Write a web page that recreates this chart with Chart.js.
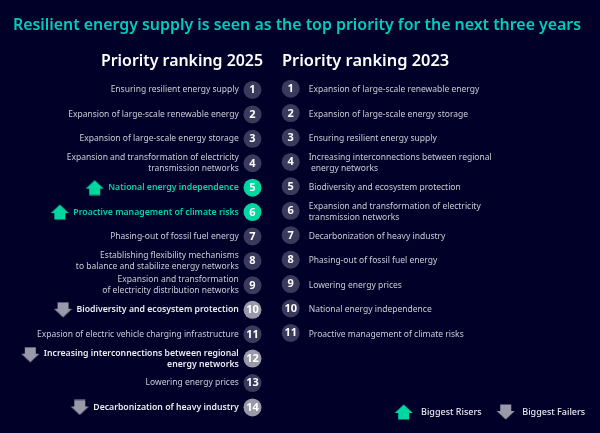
<!DOCTYPE html>
<html><head><meta charset="utf-8">
<style>html,body{margin:0;padding:0;background:#000028;overflow:hidden}canvas{display:block}</style>
<script src="https://cdn.jsdelivr.net/npm/chart.js@4"></script>
</head><body><canvas id="c" width="600" height="433"></canvas>
<script>
const chartTitle = "Resilient energy supply is seen as the top priority for the next three years";
const heading2025 = "Priority ranking 2025";
const heading2023 = "Priority ranking 2023";
const categories2025 = [
 "Ensuring resilient energy supply","Expansion of large-scale renewable energy","Expansion of large-scale energy storage",
 "Expansion and transformation of electricity\ntransmission networks","National energy independence","Proactive management of climate risks",
 "Phasing-out of fossil fuel energy","Establishing flexibility mechanisms\nto balance and stabilize energy networks",
 "Expansion and transformation\nof electricity distribution networks","Biodiversity and ecosystem protection",
 "Expasion of electric vehicle charging infrastructure","Increasing interconnections between regional\nenergy networks",
 "Lowering energy prices","Decarbonization of heavy industry"];
const categories2023 = [
 "Expansion of large-scale renewable energy","Expansion of large-scale energy storage","Ensuring resilient energy supply",
 "Increasing interconnections between regional\n energy networks","Biodiversity and ecosystem protection",
 "Expansion and transformation of electricity\ntransmission networks","Decarbonization of heavy industry",
 "Phasing-out of fossil fuel energy","Lowering energy prices","National energy independence","Proactive management of climate risks"];
const ranks2025 = [1,2,3,4,5,6,7,8,9,10,11,12,13,14];
const ranks2023 = [1,2,3,4,5,6,7,8,9,10,11];
const riserRanks = [5,6];
const failerRanks = [10,12,14];
const legendLabels = ["Biggest Risers","Biggest Failers"];

const FONT = '"Noto Sans"';
const BG='#000028', TEAL='#00cbbc', GREEN='#00d7a0', GREENTXT='#00d2a5', GREY='#9999a9', NAVY='#3a3a5c', TXT='#ccccd6', WHITE='#ffffff';
const COL25=252.5, COL23=290.7, TXT25=238.8, TXT23=308.7;
const fontBody='400 8.5px '+FONT, fontBold='600 8.7px '+FONT;

function arrow(color,down){
  const c=document.createElement('canvas');c.width=19;c.height=16;const g=c.getContext('2d');
  g.fillStyle=color;g.beginPath();
  const p=[[9.5,0.5],[18.5,9],[15,9],[15,15.5],[4,15.5],[4,9],[0.5,9]];
  p.forEach(([x,y],i)=>{const yy=down?16-y:y;i?g.lineTo(x,yy):g.moveTo(x,yy);});
  g.closePath();g.fill();return c;
}
const upImg=arrow(GREEN,false), downImg=arrow(GREY,true);
const mctx=document.createElement('canvas').getContext('2d');
function fontFor(rank){return riserRanks.includes(rank)||failerRanks.includes(rank)?fontBold:fontBody;}
function textLeft(rank){
  const lines=categories2025[rank-1].split('\n');
  mctx.font=fontFor(rank);
  return TXT25-mctx.measureText(lines[0]).width;
}
function arrowPoint(rank){
  const two=categories2025[rank-1].includes('\n');
  return {x:textLeft(rank)-13.5,y:two?rank-0.16:rank};
}
function colorFor(rank){return riserRanks.includes(rank)?GREEN:failerRanks.includes(rank)?GREY:NAVY;}

const textPlugin={id:'rankText',
  beforeDraw(ch){const c=ch.ctx;c.save();c.fillStyle=BG;c.fillRect(0,0,ch.width,ch.height);c.restore();},
  afterDatasetsDraw(ch){
    const c=ch.ctx,y=ch.scales.y;c.save();c.textBaseline='middle';
    c.fillStyle=WHITE;c.font='600 15.9px '+FONT;c.textAlign='right';c.fillText(heading2025,263,61.5);
    c.font='600 16.4px '+FONT;c.textAlign='left';c.fillText(heading2023,282,61.5);
    const LH=11;
    const rows=(list,x,align,styler)=>list.forEach((t,i)=>{
      const r=i+1,ls=t.split('\n');c.textAlign=align;styler(c,r);
      ls.forEach((l,k)=>c.fillText(l,x,y.getPixelForValue(r)+(k-(ls.length-1)/2)*LH));
    });
    rows(categories2025,TXT25,'right',(c,r)=>{
      c.font=fontFor(r);c.fillStyle=riserRanks.includes(r)?GREENTXT:failerRanks.includes(r)?'#ebebf0':TXT;});
    rows(categories2023,TXT23,'left',(c)=>{c.font=fontBody;c.fillStyle=TXT;});
    c.textAlign='center';c.fillStyle=WHITE;c.font='700 11px '+FONT;
    [0,1].forEach(d=>{const m=ch.getDatasetMeta(d);m.data.forEach((el,i)=>c.fillText(String(ch.data.datasets[d].data[i].y),el.x,el.y+0.3));});
    const lx=[403.7,505.7],tx=[421,522.3],ly=412;
    [upImg,downImg].forEach((im,i)=>{c.drawImage(im,lx[i]-im.width/2,ly-im.height/2);
      c.textAlign='left';c.font='500 9px '+FONT;c.fillStyle='#e6e6eb';c.fillText(legendLabels[i],tx[i],ly);});
    c.restore();
  }};

new Chart(document.getElementById('c'),{
  type:'scatter',
  data:{datasets:[
    {label:heading2025,data:ranks2025.map(r=>({x:COL25,y:r})),yAxisID:'y',pointRadius:9,pointHoverRadius:9,borderWidth:0,
     backgroundColor:ranks2025.map(colorFor)},
    {label:heading2023,data:ranks2023.map(r=>({x:COL23,y:r})),yAxisID:'y23',pointRadius:9,pointHoverRadius:9,borderWidth:0,
     backgroundColor:NAVY},
    {label:legendLabels[0],data:riserRanks.map(arrowPoint),yAxisID:'y',pointStyle:upImg,pointRadius:9},
    {label:legendLabels[1],data:failerRanks.map(arrowPoint),yAxisID:'y',pointStyle:downImg,pointRadius:9}
  ]},
  options:{responsive:false,animation:false,devicePixelRatio:1,
    layout:{autoPadding:false,padding:{left:0,right:6,top:0,bottom:0}},
    events:[],
    plugins:{legend:{display:false},tooltip:{enabled:false},
      title:{display:true,text:chartTitle,color:TEAL,align:'center',
        font:{family:FONT,size:15.9,weight:'600',lineHeight:1.2},padding:{top:15.5,bottom:5.4}}},
    scales:{
      x:{type:'linear',display:false,min:0,max:594},
      y:{type:'linear',display:false,reverse:true,min:1-50/24.42,max:1+343/24.42},
      y23:{type:'linear',display:false,reverse:true,min:1-50/24.42+1.3/24.42,max:1+343/24.42+1.3/24.42}
    }},
  plugins:[textPlugin]
});
</script></body></html>
